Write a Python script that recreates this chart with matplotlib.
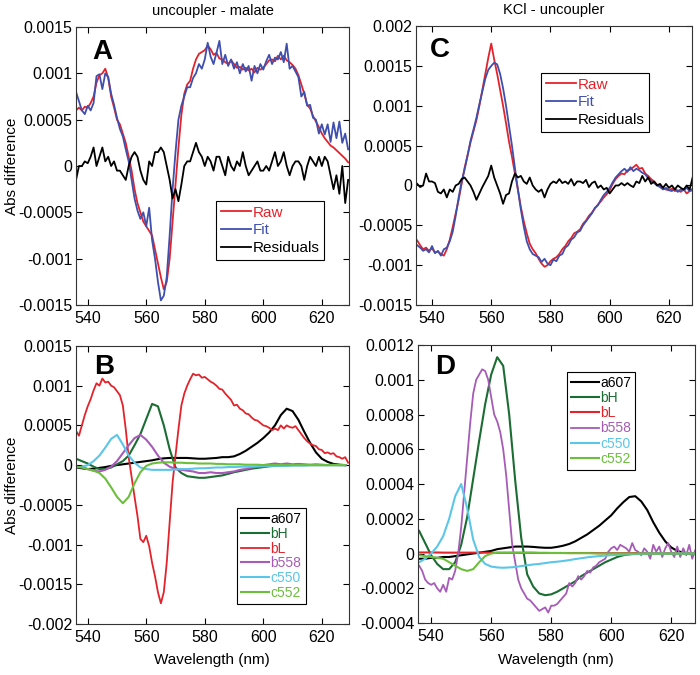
import numpy as np
import matplotlib
matplotlib.use("Agg")
import matplotlib.pyplot as plt
from matplotlib.ticker import FuncFormatter

plt.rcParams['font.family'] = ['Liberation Sans', 'DejaVu Sans']

# all absorbance values below are in units of 1e-4
wl_ab = np.arange(536, 630)        # 1 nm grid, panels A/B
wl_c = np.arange(535, 629)         # 1 nm grid, panel C
wl_d = np.arange(536, 630)         # 1 nm grid, panel D noisy trace
wl_s = np.arange(536, 629, 2)      # 2 nm grid, smooth component spectra

# Panel A: uncoupler - malate
raw_A = [6.0, 6.3, 6.0, 6.4, 6.3, 6.8, 7.5, 9.0, 9.8, 10.0,
         10.5, 9.5, 7.5, 6.3, 5.0, 4.5, 3.5, 2.5, 1.0, -0.5,
         -2.5, -4.0, -5.0, -6.0, -6.5, -7.0, -7.5, -9.0, -10.5, -12.0,
         -13.3, -12.5, -10.0, -6.0, -2.0, 2.0, 5.5, 7.8, 8.8, 9.2,
         10.5, 11.5, 12.1, 12.3, 12.5, 13.0, 12.6, 12.0, 12.2, 11.6,
         11.5, 11.2, 11.0, 11.4, 11.0, 10.6, 10.7, 10.4, 10.6, 10.3,
         10.5, 10.1, 10.6, 10.4, 10.6, 11.0, 11.4, 11.5, 11.3, 11.9,
         11.5, 11.9, 11.4, 11.2, 10.9, 10.5, 9.8, 8.8, 7.8, 6.6,
         6.2, 5.4, 4.8, 4.2, 3.5, 3.0, 2.6, 2.2, 2.0, 1.7,
         1.4, 1.1, 0.8, 0.4]
fit_A = [8.0, 7.0, 6.0, 5.6, 6.5, 6.0, 6.8, 9.7, 9.9, 8.3,
         10.0, 9.6, 7.8, 6.6, 5.2, 4.0, 3.2, 1.8, 0.5, -1.5,
         -3.5, -4.8, -5.7, -5.0, -6.5, -4.5, -8.0, -10.0, -12.5, -14.5,
         -14.0, -12.0, -7.5, -2.5, 1.5, 5.0, 6.5, 7.5, 8.5, 8.5,
         9.5, 10.0, 11.0, 10.5, 11.5, 13.3, 11.8, 11.0, 12.2, 13.5,
         11.0, 12.0, 10.8, 11.5, 10.5, 11.2, 10.0, 11.0, 10.2, 10.8,
         9.2, 10.8, 10.0, 11.0, 10.4, 11.3, 12.0, 11.0, 11.7, 11.5,
         12.3, 11.2, 13.2, 10.5, 10.8, 10.2, 9.6, 7.5, 8.0, 6.5,
         6.6, 5.2, 5.0, 3.5, 4.5, 3.4, 4.5, 2.6, 4.7, 3.0,
         4.8, 2.5, 3.5, 1.8]
res_A = [-1.5, 0, 0, 0.5, 0.3, 1, 2, 0, 1, 2,
         0.5, 1, 0, 0.5, -0.5, -0.5, -1, -1.5, 0, 1,
         1.5, 1, -0.5, -1.5, -2, 0.5, 0, 1.5, 1.5, 2,
         1.5, 0, -1.5, -3.5, -2.5, -3.8, -2, 0, 0.5, 0.5,
         1.5, 2.5, 1.5, 1, 0, 1, 0.5, -0.5, 1, 1,
         0, -1, 1, 0, -0.5, 0.5, 0, 1.5, 0, -1,
         -0.5, 0, 0.5, -0.5, -0.5, 0, -0.5, 0.5, 1.5, 0,
         0.5, 1.5, 0, -1, 0, 0.5, 0.5, 0, -1.5, 0,
         1, 0.5, 0, 1, 0, 1, 0.5, -1, -2.5, -1,
         -3, 0, -4, -1.5]

# Panel C: KCl - uncoupler
raw_C = [-6.9, -7.5, -8.0, -7.8, -8.2, -7.9, -8.4, -8.3, -8.6, -8.8,
         -8.0, -6.8, -5.2, -3.5, -1.8, 0.2, 2.2, 3.8, 5.4, 6.8,
         8.2, 10.0, 12.0, 14.0, 16.0, 17.8, 15.8, 14.0, 12.0, 10.0,
         7.8, 5.5, 3.6, 1.5, -0.5, -2.7, -4.5, -6.0, -7.3, -8.0,
         -8.5, -9.2, -9.8, -10.2, -10.0, -9.5, -9.2, -9.0, -8.6, -8.0,
         -7.6, -7.0, -6.6, -6.0, -5.8, -5.5, -4.8, -4.4, -3.8, -3.4,
         -2.9, -2.4, -2.0, -1.5, -1.1, -0.6, 0.2, 0.8, 1.2, 1.5,
         1.4, 1.9, 2.0, 2.3, 2.6, 2.1, 2.2, 1.5, 1.2, 0.8,
         0.5, 0.1, 0.0, -0.4, -0.5, -0.6, -0.4, -0.7, -0.6, -0.8,
         -0.5, -1.0, -0.7, -0.6]
fit_C = [-7.5, -7.8, -8.2, -8.0, -8.4, -7.6, -8.5, -8.2, -8.8, -8.0,
         -7.8, -7.0, -5.8, -3.8, -1.5, 0.5, 2.0, 3.7, 5.6, 7.0,
         8.5, 10.2, 11.8, 13.4, 14.5, 15.0, 15.4, 15.2, 14.0, 12.2,
         10.0, 7.5, 5.0, 2.2, -0.5, -3.0, -5.2, -7.0, -8.0, -8.6,
         -8.8, -9.0, -9.6, -9.2, -9.8, -10.0, -9.3, -9.5, -8.8, -8.6,
         -7.8, -7.5, -6.8, -6.5, -5.9, -5.7, -5.0, -4.5, -4.0, -3.5,
         -2.8, -2.5, -1.8, -1.2, -0.8, -0.3, 0.4, 1.0, 1.4, 1.8,
         2.1, 1.7, 2.3, 1.8, 2.1, 1.9, 1.6, 1.4, 0.9, 0.6,
         0.3, 0.0, -0.2, -0.5, -0.3, -0.6, -0.7, -0.4, -0.8, -0.5,
         -0.6, -0.3, -0.7, -0.4]
res_C = [0.2, -0.2, 0, 1.5, 0.5, 0.5, 0.3, -0.8, -1, -0.5,
         -1.5, -0.5, -0.8, 0, 0.2, 0.8, 1, 0.5, 0, -0.8,
         -1.8, -1, -0.2, 0.5, 1.2, 2.5, 1, 0, -1, -2.3,
         -1.2, -1, 0.5, 1.5, 1, 1.2, 0.5, 0.2, 1, 0,
         -0.5, -0.8, -0.5, -1.5, -0.5, 0.2, 0.5, 0.3, 0.8, 0.3,
         0.5, 0.2, 0.8, 0, 0.5, 0.5, 0.3, 0.7, -0.2, 0.3,
         0.5, -0.3, 0, -0.5, -0.3, -1, -0.5, 0, 0, 0.3,
         0, 0.3, 0, -0.2, 0.5, 0.3, 1.2, 0.5, 1, 0.2,
         0.5, 0, 0.2, -0.3, 0.2, -0.3, 0, -0.5, 0, -0.3,
         -0.5, 0, -0.5, 1]

# Panel B: component spectra, uncoupler - malate
bL_B = [4.3, 3.7, 5.0, 6.3, 7.4, 8.3, 9.4, 10.3, 10.0, 10.9,
        10.4, 10.5, 10.0, 9.8, 9.3, 8.8, 7.5, 4.5, 1.0, -1.5,
        -4.0, -6.4, -9.3, -9.7, -8.9, -10.2, -12.3, -14.0, -16.0, -17.4,
        -16.0, -12.3, -7.2, -2.2, 1.2, 4.5, 7.5, 9.0, 10.0, 10.8,
        11.5, 11.3, 11.4, 11.0, 11.1, 10.8, 10.5, 10.3, 10.0, 9.6,
        9.5, 9.0, 8.6, 8.2, 7.5, 7.6, 7.1, 6.9, 6.5, 6.4,
        6.0, 5.7, 5.6, 5.3, 5.0, 4.9, 4.7, 4.4, 4.6, 4.4,
        5.0, 4.6, 5.0, 4.8, 4.7, 4.9, 4.4, 3.9, 3.4, 3.0,
        2.7, 2.5, 2.4, 2.0, 1.9, 1.5, 1.6, 1.4, 1.5, 1.1,
        1.0, 0.8, 1.0, 0.3]
a607_B = [-0.3, -0.4, -0.5, -0.45, -0.35, -0.25, -0.1, 0.0, 0.1, 0.2,
          0.3, 0.4, 0.5, 0.6, 0.75, 0.85, 0.9, 0.9, 0.9, 0.9,
          0.85, 0.8, 0.8, 0.85, 0.9, 1.0, 1.0, 1.1, 1.4, 1.8,
          2.3, 2.8, 3.4, 4.1, 5.0, 6.3, 7.1, 6.8, 5.7, 4.2,
          2.8, 1.6, 0.8, 0.4, 0.15, 0.05, 0.0]
bH_B = [0.8, 0.5, 0.2, -0.2, -0.5, -0.5, -0.3, 0.1, 0.5, 1.2,
        2.5, 3.9, 5.8, 7.7, 7.4, 5.0, 2.0, -0.3, -1.0, -1.4,
        -1.5, -1.6, -1.6, -1.5, -1.4, -1.3, -1.1, -0.9, -0.75, -0.6,
        -0.45, -0.35, -0.25, -0.15, -0.1, -0.05, 0, 0, 0, 0,
        0, 0, 0, 0, 0, 0, 0]
b558_B = [-0.2, -0.3, -0.5, -0.7, -0.8, -0.6, -0.2, 0.5, 1.5, 2.5,
          3.4, 3.8, 3.2, 2.3, 1.2, 0.3, -0.2, -0.5, -0.6, -0.7,
          -0.8, -1.0, -1.0, -0.9, -1.0, -1.0, -0.9, -0.8, -0.6, -0.5,
          -0.3, -0.2, 0.0, 0.1, 0.2, 0.1, 0.2, 0.1, 0.15, 0.1,
          0.05, 0.1, 0.05, 0.0, 0.05, 0.0, 0.0]
c550_B = [-0.3, -0.2, 0.0, 0.5, 1.2, 2.2, 3.3, 3.8, 2.6, 1.2,
          0.3, -0.3, -0.5, -0.6, -0.6, -0.6, -0.6, -0.55, -0.5, -0.5,
          -0.45, -0.4, -0.4, -0.35, -0.3, -0.3, -0.25, -0.25, -0.2, -0.2,
          -0.2, -0.15, -0.15, -0.1, -0.1, -0.1, -0.1, -0.05, -0.05, -0.05,
          0, 0, 0, 0, 0, 0, 0]
c552_B = [-0.2, -0.3, -0.5, -0.7, -1.0, -1.7, -2.8, -4.0, -4.8, -4.0,
          -2.3, -0.9, -0.1, 0.2, 0.3, 0.35, 0.35, 0.3, 0.3, 0.25,
          0.25, 0.2, 0.2, 0.2, 0.15, 0.15, 0.1, 0.1, 0.1, 0.05,
          0.05, 0.05, 0, 0, 0, 0, 0, 0, 0, 0,
          0, 0, 0, 0, 0, 0, 0]

# Panel D: component spectra, KCl - uncoupler
a607_D = [-0.3, -0.3, -0.25, -0.25, -0.2, -0.2, -0.15, -0.1, -0.05, 0.0,
          0.05, 0.1, 0.15, 0.25, 0.3, 0.35, 0.4, 0.4, 0.4, 0.38,
          0.35, 0.33, 0.33, 0.38, 0.45, 0.55, 0.7, 0.9, 1.1, 1.35,
          1.6, 1.9, 2.2, 2.6, 2.95, 3.25, 3.3, 3.0, 2.5, 1.8,
          1.2, 0.7, 0.35, 0.15, 0.05, 0.0, -0.02]
bH_D = [1.3, 0.6, -0.1, -0.6, -0.9, -0.9, -0.5, 0.5, 2.1, 4.3,
        6.5, 8.6, 10.3, 11.3, 10.8, 8.0, 4.2, 0.9, -1.2, -1.9,
        -2.3, -2.4, -2.35, -2.2, -2.0, -1.8, -1.6, -1.3, -1.1, -0.9,
        -0.7, -0.5, -0.35, -0.2, -0.1, -0.05, 0, 0, 0, 0,
        0, 0, 0, 0, 0, 0, 0]
bL_D = [0.06, 0.06, 0.06, 0.06, 0.05, 0.05, 0.05, 0.05, 0.05, 0.05,
        0.05, 0.05, 0.04, 0.04, 0.04, 0.04, 0.04, 0.04, 0.04, 0.04,
        0.03, 0.03, 0.03, 0.03, 0.03, 0.03, 0.03, 0.03, 0.03, 0.03,
        0.02, 0.02, 0.02, 0.02, 0.02, 0.02, 0.02, 0.02, 0.02, 0.02,
        0.02, 0.02, 0.02, 0.02, 0.02, 0.02, 0.02]
b558_D = [-0.7, -1.0, -1.5, -1.7, -1.8, -1.7, -2.0, -2.2, -1.8, -2.2,
          -1.4, -1.5, -1.0, 0.0, 1.5, 3.5, 5.5, 7.5, 9.2, 10.0,
          10.3, 10.6, 10.5, 10.0, 9.0, 8.0, 7.6, 7.0, 6.0, 4.5,
          2.5, 0.5, -0.5, -1.5, -2.0, -2.3, -2.6, -2.7, -2.9, -3.1,
          -3.3, -3.2, -3.1, -3.4, -3.0, -3.0, -2.9, -2.7, -2.5, -2.3,
          -1.7, -1.9, -1.7, -1.3, -1.5, -1.3, -1.0, -1.1, -0.8, -0.7,
          -0.5, -0.4, -0.3, 0.1, 0.3, 0.4, 0.2, 0.5, 0.4, 0.3,
          0.1, 0.6, 0.2, 0.1, -0.1, 0.3, 0.1, -0.3, 0.5, 0.1,
          0.4, -0.2, 0.3, 0.6, 0.1, -0.2, 0.4, -0.2, 0.3, -0.1,
          0.5, -0.3, 0.2, -0.1]
c550_D = [-0.5, -0.3, 0.0, 0.4, 1.0, 2.0, 3.3, 4.0, 2.6, 0.8,
          -0.2, -0.6, -0.75, -0.8, -0.82, -0.8, -0.78, -0.72, -0.68, -0.63,
          -0.6, -0.55, -0.5, -0.47, -0.43, -0.38, -0.32, -0.27, -0.22, -0.18,
          -0.15, -0.12, -0.1, -0.08, -0.06, -0.05, -0.03, -0.02, 0, 0,
          0, 0, 0, 0, 0, 0, 0]
c552_D = [-0.1, -0.15, -0.2, -0.25, -0.3, -0.5, -0.7, -0.9, -1.0, -0.9,
          -0.5, -0.15, 0.0, 0.05, 0.05, 0.05, 0.05, 0.05, 0.05, 0.05,
          0.04, 0.04, 0.03, 0.03, 0.03, 0.02, 0.02, 0.02, 0.02, 0.01,
          0, 0, 0, 0, 0, 0, 0, 0, 0, 0,
          0, 0, 0, 0, 0, 0, 0]

RED = '#e3232b'
BLUE = '#3f4fad'
COLORS = {'a607': 'black', 'bH': '#1c6d33', 'bL': '#e3232b',
          'b558': '#a65cb6', 'c550': '#5cc6e8', 'c552': '#6cbf3c'}
S = 1e-4


def style_axes(ax, xlim, ylim, yticks):
    ax.set_xlim(*xlim)
    ax.set_ylim(*ylim)
    ax.set_xticks([540, 560, 580, 600, 620])
    ax.set_yticks(yticks)
    ax.yaxis.set_major_formatter(FuncFormatter(lambda v, p: '%g' % round(v, 6)))
    ax.tick_params(direction='in', top=True, right=True, length=4,
                   width=0.8, labelsize=11.5)
    ax.tick_params(axis='y', pad=2.5)
    ax.tick_params(axis='x', pad=4)
    for sp in ax.spines.values():
        sp.set_linewidth(0.8)
        sp.set_color('#333333')


def add_legend(ax, x, y, fs, colors, spacing):
    leg = ax.legend(loc='upper left', bbox_to_anchor=(x, y), borderaxespad=0,
                    fontsize=fs, handlelength=2.0, handletextpad=0.1,
                    borderpad=0.3, labelspacing=spacing, fancybox=False,
                    edgecolor='black', framealpha=1)
    leg.get_frame().set_linewidth(0.8)
    for t, c in zip(leg.get_texts(), colors):
        t.set_color(c)


fig = plt.figure(figsize=(7, 6.75), dpi=100)
axA = fig.add_axes([0.1086, 0.5481, 0.39, 0.4119])
axC = fig.add_axes([0.5943, 0.5481, 0.3943, 0.4133])
axB = fig.add_axes([0.1086, 0.0756, 0.39, 0.4119])
axD = fig.add_axes([0.5971, 0.077, 0.3957, 0.4119])

# A
axA.plot(wl_ab, np.array(raw_A) * S, color=RED, lw=1.3, label='Raw')
axA.plot(wl_ab, np.array(fit_A) * S, color=BLUE, lw=1.3, label='Fit')
axA.plot(wl_ab, np.array(res_A) * S, color='black', lw=1.3, label='Residuals')
style_axes(axA, (536, 629.3), (-0.0015, 0.0015),
           [-0.0015, -0.001, -0.0005, 0, 0.0005, 0.001, 0.0015])
add_legend(axA, 0.513, 0.374, 11, [RED, BLUE, 'black'], 0.25)
axA.set_title('uncoupler - malate', fontsize=10.5, pad=9)

# C
axC.plot(wl_c, np.array(raw_C) * S, color=RED, lw=1.3, label='Raw')
axC.plot(wl_c, np.array(fit_C) * S, color=BLUE, lw=1.3, label='Fit')
axC.plot(wl_c, np.array(res_C) * S, color='black', lw=1.3, label='Residuals')
style_axes(axC, (534.6, 627.8), (-0.0015, 0.002),
           [-0.0015, -0.001, -0.0005, 0, 0.0005, 0.001, 0.0015, 0.002])
add_legend(axC, 0.453, 0.832, 11, [RED, BLUE, 'black'], 0.25)
axC.set_title('KCl - uncoupler', fontsize=10.5, pad=9)

# B
axB.plot(wl_s, np.array(a607_B) * S, color=COLORS['a607'], lw=1.5, label='a607')
axB.plot(wl_s, np.array(bH_B) * S, color=COLORS['bH'], lw=1.5, label='bH')
axB.plot(wl_ab, np.array(bL_B) * S, color=COLORS['bL'], lw=1.3, label='bL')
axB.plot(wl_s, np.array(b558_B) * S, color=COLORS['b558'], lw=1.5, label='b558')
axB.plot(wl_s, np.array(c550_B) * S, color=COLORS['c550'], lw=1.5, label='c550')
axB.plot(wl_s, np.array(c552_B) * S, color=COLORS['c552'], lw=1.5, label='c552')
style_axes(axB, (536, 629.3), (-0.002, 0.0015),
           [-0.002, -0.0015, -0.001, -0.0005, 0, 0.0005, 0.001, 0.0015])
add_legend(axB, 0.59, 0.417, 10, list(COLORS.values()), 0.05)

# D
axD.plot(wl_s, np.array(a607_D) * S, color=COLORS['a607'], lw=1.5, label='a607')
axD.plot(wl_s, np.array(bH_D) * S, color=COLORS['bH'], lw=1.5, label='bH')
axD.plot(wl_s, np.array(bL_D) * S, color=COLORS['bL'], lw=1.5, label='bL')
axD.plot(wl_d, np.array(b558_D) * S, color=COLORS['b558'], lw=1.3, label='b558')
axD.plot(wl_s, np.array(c550_D) * S, color=COLORS['c550'], lw=1.5, label='c550')
axD.plot(wl_s, np.array(c552_D) * S, color=COLORS['c552'], lw=1.5, label='c552')
style_axes(axD, (535.6, 627.9), (-0.0004, 0.0012),
           [-0.0004, -0.0002, 0, 0.0002, 0.0004, 0.0006, 0.0008, 0.001, 0.0012])
add_legend(axD, 0.538, 0.903, 10, list(COLORS.values()), 0.08)

# panel letters
for ax, letter, x, y in [(axA, 'A', 0.06, 0.91), (axC, 'C', 0.05, 0.914),
                         (axB, 'B', 0.066, 0.924), (axD, 'D', 0.061, 0.92)]:
    ax.text(x, y, letter, transform=ax.transAxes, fontsize=20,
            fontweight='bold', ha='left', va='center')

fig.text(12 / 700, 0.754, 'Abs difference', rotation=90, fontsize=11,
         ha='center', va='center')
fig.text(12 / 700, 0.281, 'Abs difference', rotation=90, fontsize=11,
         ha='center', va='center')
fig.text(212 / 700, 0.022, 'Wavelength (nm)', fontsize=11, ha='center', va='center')
fig.text(556 / 700, 0.022, 'Wavelength (nm)', fontsize=11, ha='center', va='center')

fig.savefig('out.png', dpi=100)
